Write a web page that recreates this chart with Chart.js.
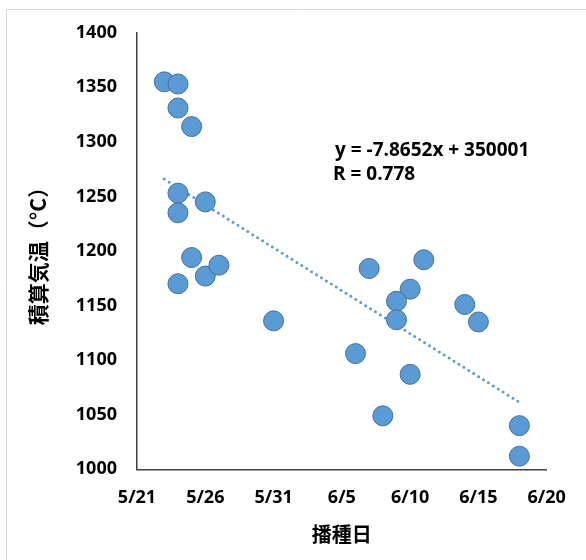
<!DOCTYPE html>
<html>
<head>
<meta charset="utf-8">
<script src="https://cdn.jsdelivr.net/npm/chart.js@4"></script>
<style>
  html, body { margin: 0; padding: 0; background: #fff; }
  #wrap { width: 586px; height: 560px; }
</style>
</head>
<body>
<div id="wrap"><canvas id="chart" width="586" height="560"></canvas></div>
<script>
// 播種日 (month/day) and 積算気温 (°C) for each plot
const sowingDates = [
  '5/23', '5/24', '5/24', '5/25', '5/24', '5/26', '5/24', '5/25',
  '5/26', '5/27', '5/24', '5/31', '6/7', '6/11', '6/10', '6/9',
  '6/9', '6/14', '6/15', '6/6', '6/10', '6/8', '6/18', '6/18'
];
const accumulatedTemp = [
  1355, 1353, 1331, 1314, 1253, 1245, 1235, 1194,
  1177, 1187, 1170, 1136, 1184, 1192, 1165, 1154,
  1137, 1151, 1135, 1106, 1087, 1049, 1040, 1012
];
const xTickLabels = ['5/21', '5/26', '5/31', '6/5', '6/10', '6/15', '6/20'];
const yTickValues = [1000, 1050, 1100, 1150, 1200, 1250, 1300, 1350, 1400];

// Linear trendline (x = spreadsheet date serial)
const trendSlope = -7.8652;
const trendIntercept = 350001;
const trendR = 0.778;
const season = 2021;

// month/day -> spreadsheet date serial (days since 1899-12-30)
function toSerial(md) {
  const [m, d] = md.split('/').map(Number);
  return Date.UTC(season, m - 1, d) / 86400000 + 25569;
}
function fromSerial(s) {
  const dt = new Date((s - 25569) * 86400000);
  return (dt.getUTCMonth() + 1) + '/' + dt.getUTCDate();
}

const points = sowingDates.map((d, i) => ({ x: toSerial(d), y: accumulatedTemp[i] }));
const xs = points.map(p => p.x);
const trendX = [Math.min(...xs), Math.max(...xs)];
const trendPoints = trendX.map(x => ({ x, y: trendSlope * x + trendIntercept }));

const latinFamily = '"Open Sans", "Liberation Sans", sans-serif';
const tickFont = { family: latinFamily, size: 18, weight: 'bold' };
const cjkFont = '"Noto Sans CJK JP", "Noto Sans CJK SC", sans-serif';

const frame = {
  id: 'frame',
  beforeDraw(chart) {
    const ctx = chart.ctx;
    ctx.save();
    ctx.fillStyle = '#ffffff';
    ctx.fillRect(0, 0, chart.width, chart.height);
    ctx.strokeStyle = '#d9d9d9';
    ctx.lineWidth = 1;
    ctx.beginPath();
    ctx.moveTo(6.5, chart.height);
    ctx.lineTo(6.5, 9.5);
    ctx.lineTo(chart.width, 9.5);
    ctx.stroke();
    ctx.restore();
  }
};

const equationLabel = {
  id: 'equationLabel',
  afterDatasetsDraw(chart) {
    const ctx = chart.ctx;
    const slopeText = (trendSlope < 0 ? '-' : '') + Math.abs(trendSlope).toFixed(4);
    ctx.save();
    ctx.fillStyle = '#000';
    ctx.font = 'bold 19px ' + latinFamily;
    ctx.textAlign = 'left';
    ctx.textBaseline = 'middle';
    ctx.fillText('y = ' + slopeText + 'x + ' + trendIntercept, 335, 151);
    ctx.fillText('R = ' + trendR, 333, 175);
    ctx.restore();
  }
};

new Chart(document.getElementById('chart'), {
  type: 'scatter',
  data: {
    datasets: [
      {
        label: '積算気温',
        data: points,
        pointRadius: 10,
        pointHoverRadius: 10,
        backgroundColor: '#5b9bd5',
        borderColor: '#41719c',
        borderWidth: 1
      },
      {
        type: 'line',
        label: '線形近似',
        data: trendPoints,
        showLine: true,
        pointRadius: 0,
        borderColor: '#5b9bd5',
        borderWidth: 3,
        borderDash: [0, 5.8],
        borderCapStyle: 'round',
        fill: false
      }
    ]
  },
  options: {
    responsive: false,
    animation: false,
    devicePixelRatio: 1,
    layout: { padding: { top: 32.7, right: 39.3, bottom: 0, left: 0 } },
    plugins: {
      legend: { display: false },
      tooltip: { enabled: false }
    },
    scales: {
      x: {
        type: 'linear',
        min: toSerial(xTickLabels[0]),
        max: toSerial(xTickLabels[xTickLabels.length - 1]),
        afterBuildTicks(scale) {
          scale.ticks = xTickLabels.map(t => ({ value: toSerial(t) }));
        },
        afterFit(scale) { scale.height = 90.7; },
        grid: { display: false, drawTicks: false },
        border: { display: true, color: '#404040', width: 1.5 },
        ticks: {
          font: tickFont,
          color: '#000',
          padding: 18,
          maxRotation: 0,
          autoSkip: false,
          callback: v => fromSerial(v)
        },
        title: {
          display: true,
          text: '播種日',
          color: '#000',
          font: { family: cjkFont, size: 20, weight: 'bold' },
          padding: { top: 0, bottom: 14 }
        }
      },
      y: {
        min: yTickValues[0],
        max: yTickValues[yTickValues.length - 1],
        afterBuildTicks(scale) {
          scale.ticks = yTickValues.map(v => ({ value: v }));
        },
        afterFit(scale) { scale.width = 137; },
        grid: { display: false, drawTicks: false },
        border: { display: true, color: '#404040', width: 1.5 },
        ticks: {
          font: tickFont,
          color: '#000',
          padding: 20,
          autoSkip: false,
          callback: v => String(v)
        },
        title: {
          display: true,
          text: '積算気温（°C）',
          color: '#000',
          font: { family: cjkFont, size: 21, weight: 'bold' },
          padding: { top: 25.4, bottom: 0 }
        }
      }
    }
  },
  plugins: [frame, equationLabel]
});
</script>
</body>
</html>
